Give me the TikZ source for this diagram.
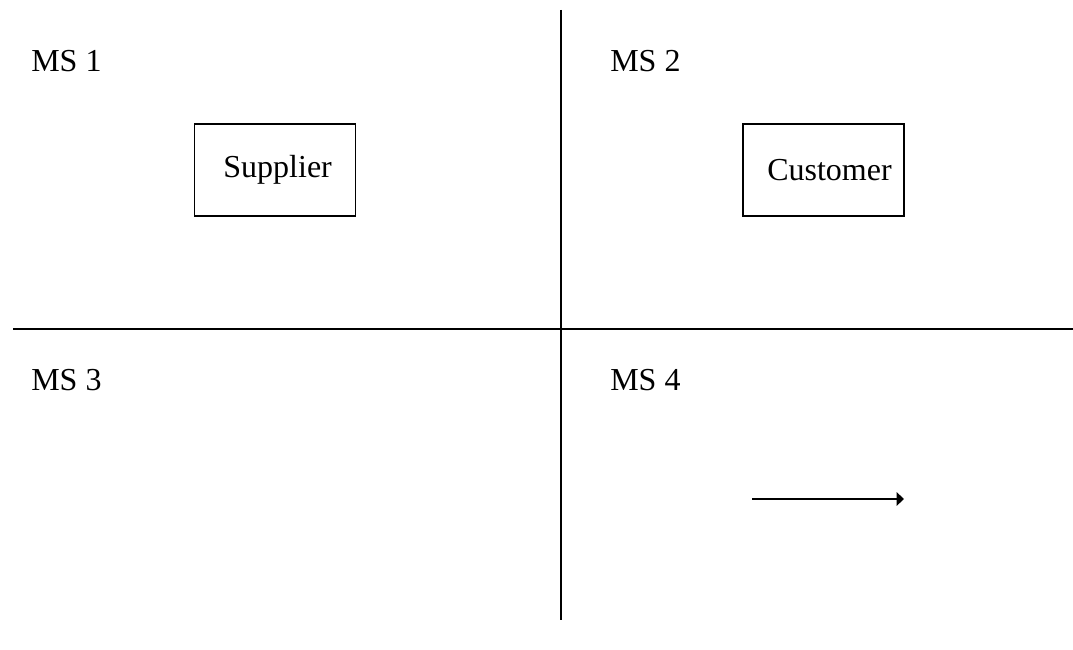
\documentclass[tikz,border=0pt]{standalone}
\usepackage{fontspec}
\setmainfont{Liberation Serif}
\usetikzlibrary{arrows.meta}

\begin{document}
\begin{tikzpicture}[x=0.75pt, y=-0.75pt,
        divider/.style={line width=1.2pt},
        msname/.style={anchor=base west, inner sep=0pt, font=\fontsize{24}{28}\selectfont},
        party/.style={draw, line width=0.9pt, minimum width=120.75pt, minimum height=69pt, inner sep=0pt, font=\fontsize{24}{28}\selectfont},
        flow/.style={line width=1.9pt, -{Triangle[length=5.5pt, width=10pt]}}]
    \useasboundingbox (0,0) rectangle (1073,649);
    % quadrant dividers
    \coordinate (top) at (561,10);
    \coordinate (bottom) at (561,620);
    \coordinate (left) at (13,329);
    \coordinate (right) at (1073,329);
    \draw[divider] (top) -- (bottom);
    \draw[divider] (left) -- (right);
    % market segments
    \node[msname] (ms1) at (31,72) {MS 1};
    \node[msname] (ms2) at (610,72) {MS 2};
    \node[msname] (ms3) at (31,390) {MS 3};
    \node[msname] (ms4) at (610,390) {MS 4};
    % parties
    \node[party] (supplier) at (275,170) {\hspace{4pt}Supplier};
    \node[party] (customer) at (823.5,170) {\hspace{9pt}Customer};
    % flow
    \coordinate (flowstart) at (752,499);
    \coordinate (flowend) at (904,499);
    \draw[flow] (flowstart) -- (flowend);
\end{tikzpicture}
\end{document}
